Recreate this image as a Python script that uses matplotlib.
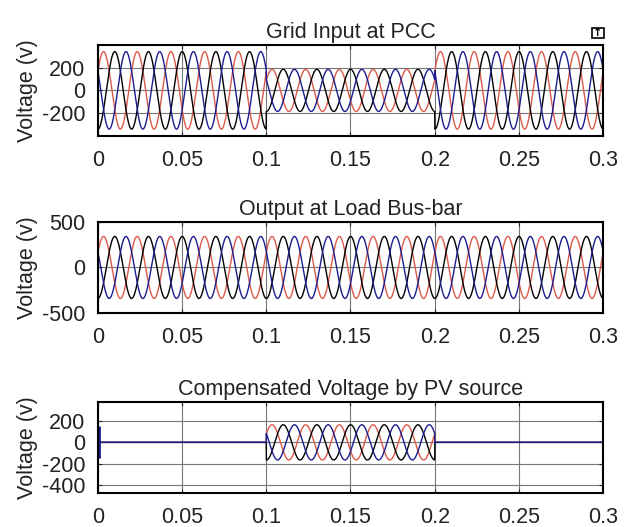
import numpy as np
import matplotlib
matplotlib.use('Agg')
import matplotlib.pyplot as plt
from matplotlib.patches import Rectangle

plt.rcParams['font.family'] = ['Liberation Sans', 'DejaVu Sans']
plt.rcParams['axes.unicode_minus'] = False

# Waveform parameters
freq = 50                      # Hz
t_end = 0.3
phase_offset = 0.5             # rad, phase of the red line at t=0
seg_edges = [0.0, 0.1, 0.2, 0.3]
grid_amp = [340, 185, 340]     # grid input at PCC (sag between 0.1 and 0.2)
load_amp = [340, 340, 340]     # output at load bus-bar
comp_amp = [0, 165, 0]         # compensated voltage by PV source
comp_spike = 150               # startup spike at t=0 in compensation

titles = ['Grid Input at PCC', 'Output at Load Bus-bar', 'Compensated Voltage by PV source']
xticks = [0, 0.05, 0.1, 0.15, 0.2, 0.25, 0.3]
xtick_labels = ['0', '0.05', '0.1', '0.15', '0.2', '0.25', '0.3']
ylims = [(-400, 400), (-500, 500), (-475, 380)]
yticks = [[-200, 0, 200], [-500, 0, 500], [-400, -200, 0, 200]]

colors = ['#dc5a4a', '#000000', '#1c1c8e']
shifts = [0, -2 * np.pi / 3, 2 * np.pi / 3]

t = np.linspace(0, t_end, 6000)


def envelope(amps):
    env = np.zeros_like(t)
    for i, a in enumerate(amps):
        m = (t >= seg_edges[i]) & (t <= seg_edges[i + 1])
        env[m] = a
    return env


fig = plt.figure(figsize=(6.27, 5.27), dpi=100)
left, width, height = 0.156, 0.806, 0.173
bottoms = [0.742, 0.406, 0.0645]
fs = 15.5

for k, amps in enumerate([grid_amp, load_amp, comp_amp]):
    ax = fig.add_axes([left, bottoms[k], width, height])
    env = envelope(amps)
    for c, s in zip(colors, shifts):
        ax.plot(t, env * np.sin(2 * np.pi * freq * t + phase_offset + s), color=c, lw=1.0)
    if k == 2:
        ax.vlines(0.0005, -comp_spike, comp_spike, color=colors[2], lw=2)
    ax.set_xlim(0, t_end)
    ax.set_ylim(*ylims[k])
    ax.set_xticks(xticks)
    ax.set_xticklabels(xtick_labels)
    ax.set_yticks(yticks[k])
    ax.tick_params(direction='in', length=3, labelsize=fs, colors='#222222',
                   top=True, right=True)
    ax.tick_params(axis='x', pad=10)
    ax.tick_params(axis='y', pad=9)
    ax.grid(True, color='#777777', lw=0.8)
    for sp in ax.spines.values():
        sp.set_linewidth(1.5)
        sp.set_color('black')
    ax.set_title(titles[k], fontsize=fs, pad=5, color='#222222')
    ax.set_ylabel('Voltage (v)', fontsize=fs, color='#222222', labelpad=3)

# small export icon in the corner
fig.patches.append(Rectangle((592 / 627, 1 - 38 / 527), 12 / 627, 10 / 527,
                             transform=fig.transFigure, fill=False, lw=1.2, color='black'))
fig.text(598 / 627, 1 - 33 / 527, '↑', ha='center', va='center', fontsize=8,
         family=['DejaVu Sans'], fontweight='bold')

fig.savefig('out.png', dpi=100)
